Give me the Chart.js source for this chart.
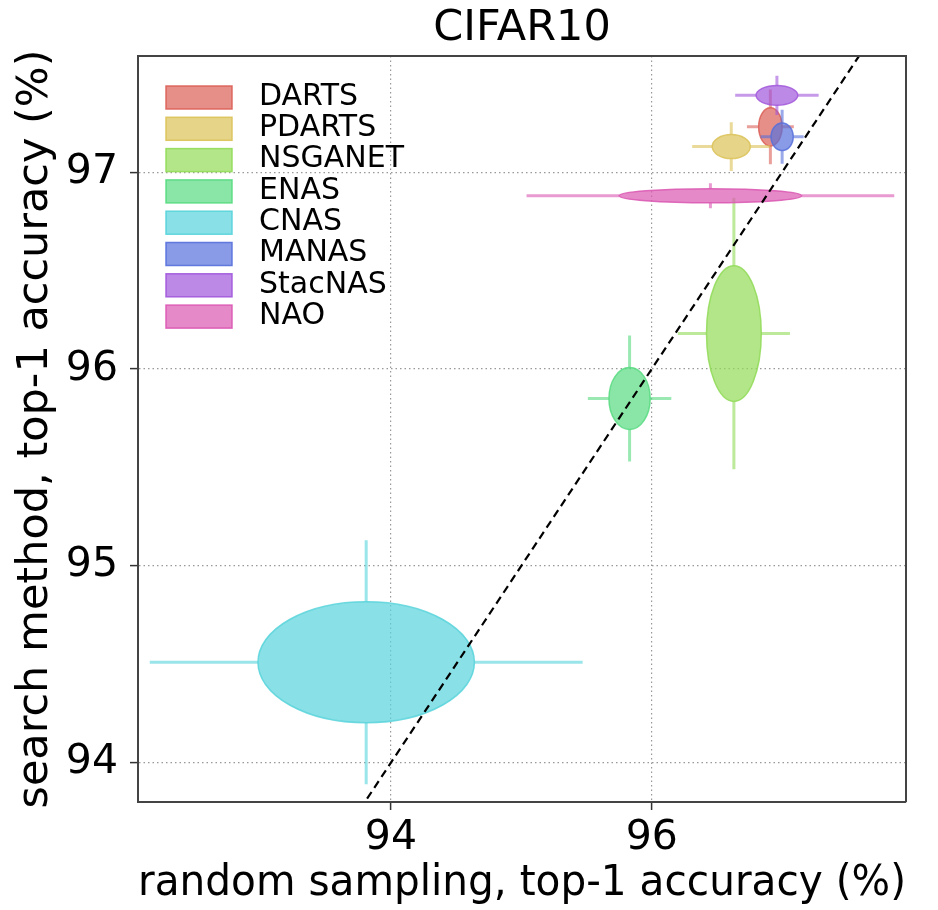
<!DOCTYPE html>
<html>
<head>
<meta charset="utf-8">
<title>CIFAR10</title>
<script src="https://cdn.jsdelivr.net/npm/chart.js@4.4.1/dist/chart.umd.min.js"></script>
<style>
  html, body { margin: 0; padding: 0; background: #fff; }
  #wrap { width: 938px; height: 910px; }
</style>
</head>
<body>
<div id="wrap"><canvas id="chart" width="938" height="910"></canvas></div>
<script>
// methods, in legend order
const methods = ['DARTS', 'PDARTS', 'NSGANET', 'ENAS', 'CNAS', 'MANAS', 'StacNAS', 'NAO'];

// mean top-1 accuracy (%) of random sampling (x) and of the search method (y)
const randAcc   = [96.91, 96.61, 96.63, 95.83, 93.81, 97.00, 96.96, 96.45];
const searchAcc = [97.23, 97.13, 96.18, 95.85, 94.51, 97.18, 97.39, 96.88];

// ellipse half-axes (std)
const randStd   = [0.09, 0.146, 0.21, 0.158, 0.83, 0.085, 0.16, 0.70];
const searchStd = [0.097, 0.061, 0.345, 0.157, 0.307, 0.07, 0.05, 0.036];

// error bar half-lengths
const randErr   = [0.18, 0.30, 0.43, 0.32, 1.66, 0.165, 0.32, 1.41];
const searchErr = [0.19, 0.124, 0.69, 0.32, 0.62, 0.137, 0.10, 0.064];

// y = x reference line
const diagX = [92, 98];
const diagY = [92, 98];

const xTicks = [94, 96];
const yTicks = [94, 95, 96, 97];

const colors = [
    [219, 95, 87], [219, 194, 87], [145, 219, 87], [87, 219, 128],
    [87, 211, 219], [87, 112, 219], [161, 87, 219], [219, 87, 178]
];

const FONT = 'DejaVu Sans';

function rgba(c, a) {
    return `rgba(${c[0]}, ${c[1]}, ${c[2]}, ${a})`;
}

const ellipsePlugin = {
    id: 'ellipses',
    beforeDatasetsDraw(chart) {
        const { ctx, chartArea, scales: { x, y } } = chart;
        ctx.save();
        ctx.beginPath();
        ctx.rect(chartArea.left, chartArea.top, chartArea.width, chartArea.height);
        ctx.clip();
        methods.forEach((name, i) => {
            const cx = x.getPixelForValue(randAcc[i]);
            const cy = y.getPixelForValue(searchAcc[i]);

            // error bars, only outside the ellipse
            ctx.strokeStyle = rgba(colors[i], 0.6);
            ctx.lineWidth = 3;
            ctx.beginPath();
            ctx.moveTo(x.getPixelForValue(randAcc[i] - randErr[i]), cy);
            ctx.lineTo(x.getPixelForValue(randAcc[i] - randStd[i]), cy);
            ctx.moveTo(x.getPixelForValue(randAcc[i] + randStd[i]), cy);
            ctx.lineTo(x.getPixelForValue(randAcc[i] + randErr[i]), cy);
            ctx.moveTo(cx, y.getPixelForValue(searchAcc[i] - searchErr[i]));
            ctx.lineTo(cx, y.getPixelForValue(searchAcc[i] - searchStd[i]));
            ctx.moveTo(cx, y.getPixelForValue(searchAcc[i] + searchStd[i]));
            ctx.lineTo(cx, y.getPixelForValue(searchAcc[i] + searchErr[i]));
            ctx.stroke();

            const rx = Math.abs(x.getPixelForValue(randAcc[i] + randStd[i]) - cx);
            const ry = Math.abs(y.getPixelForValue(searchAcc[i] + searchStd[i]) - cy);
            ctx.beginPath();
            ctx.ellipse(cx, cy, rx, ry, 0, 0, Math.PI * 2);
            ctx.fillStyle = rgba(colors[i], 0.7);
            ctx.fill();
            ctx.strokeStyle = rgba(colors[i], 0.85);
            ctx.lineWidth = 1.5;
            ctx.stroke();
        });
        ctx.restore();
    },
    afterDraw(chart) {
        const { ctx, chartArea } = chart;
        ctx.save();

        // top and right frame
        ctx.strokeStyle = '#444';
        ctx.lineWidth = 2;
        ctx.beginPath();
        ctx.moveTo(chartArea.left, chartArea.top);
        ctx.lineTo(chartArea.right, chartArea.top);
        ctx.lineTo(chartArea.right, chartArea.bottom);
        ctx.stroke();

        // legend inside the plot
        const left = chartArea.left + 28;
        const top = chartArea.top + 30;
        ctx.font = `30px "${FONT}"`;
        ctx.textBaseline = 'middle';
        ctx.textAlign = 'left';
        methods.forEach((name, i) => {
            const by = top + i * 31.3;
            ctx.fillStyle = rgba(colors[i], 0.7);
            ctx.fillRect(left, by, 66, 23);
            ctx.strokeStyle = rgba(colors[i], 0.9);
            ctx.lineWidth = 1.5;
            ctx.strokeRect(left, by, 66, 23);
            ctx.fillStyle = '#000';
            ctx.fillText(name, left + 93, by + 11);
        });
        ctx.restore();
    }
};

new Chart(document.getElementById('chart'), {
    type: 'scatter',
    data: {
        datasets: [{
            label: 'y = x',
            data: diagX.map((v, i) => ({ x: v, y: diagY[i] })),
            showLine: true,
            borderColor: '#000',
            borderWidth: 2.2,
            borderDash: [8, 5],
            pointRadius: 0
        }]
    },
    options: {
        responsive: false,
        animation: false,
        events: [],
        layout: { padding: { left: 0, right: 32, top: 0, bottom: 0 } },
        plugins: {
            legend: { display: false },
            tooltip: { enabled: false },
            title: {
                display: true,
                fullSize: false,
                text: 'CIFAR10',
                color: '#000',
                font: { family: FONT, size: 43, weight: 'normal', lineHeight: 1.2 },
                padding: { top: 3, bottom: 1.4 }
            }
        },
        scales: {
            x: {
                type: 'linear',
                min: 92.06,
                max: 97.95,
                afterBuildTicks: s => { s.ticks = xTicks.map(v => ({ value: v })); },
                afterFit: s => { s.height = 108; },
                ticks: { color: '#000', padding: 4, font: { family: FONT, size: 41 } },
                grid: { color: '#999', lineWidth: 1.2, tickColor: '#333', tickWidth: 1.5, tickLength: 8 },
                border: { color: '#444', width: 2, dash: [1.5, 3] },
                title: {
                    display: true,
                    text: 'random sampling, top-1 accuracy (%)',
                    color: '#000',
                    font: { family: FONT, size: 43 },
                    padding: 0
                }
            },
            y: {
                type: 'linear',
                min: 93.8,
                max: 97.59,
                afterBuildTicks: s => { s.ticks = yTicks.map(v => ({ value: v })); },
                afterFit: s => { s.width = 138; },
                ticks: { color: '#000', padding: 12, font: { family: FONT, size: 41 } },
                grid: { color: '#999', lineWidth: 1.2, tickColor: '#333', tickWidth: 1.5, tickLength: 8 },
                border: { color: '#444', width: 2, dash: [1.5, 3] },
                title: {
                    display: true,
                    text: 'search method, top-1 accuracy (%)',
                    color: '#000',
                    font: { family: FONT, size: 43 },
                    padding: { top: 10, bottom: 0 }
                }
            }
        }
    },
    plugins: [ellipsePlugin]
});
</script>
</body>
</html>
